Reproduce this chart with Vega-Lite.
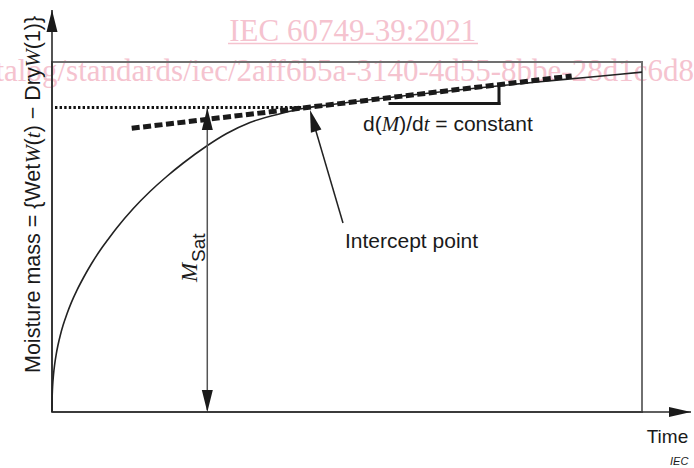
{
  "$schema": "https://vega.github.io/schema/vega-lite/v6.json",
  "width": 694,
  "height": 468,
  "autosize": {"type": "none"},
  "padding": 0,
  "background": "white",
  "config": {"view": {"stroke": null}},
  "datasets": {
    "watermark": [
      {"t": 50.98, "m": 106.0, "label": "IEC 60749-39:2021"}
    ],
    "watermarkUrl": [
      {"t": -14.24, "m": 94.57, "label": "catalog/standards/iec/2aff6b5a-3140-4d55-8bbe-28d1c6d8"}
    ],
    "underline": [
      {"t": 29.83, "t2": 72.2, "m": 105.29, "m2": 105.29}
    ],
    "box": [
      {"t": 0, "t2": 100, "m": 0, "m2": 100}
    ],
    "curve": [
      {"t": 0, "m": 0},
      {"t": 0.017, "m": 3.429},
      {"t": 0.051, "m": 5.429},
      {"t": 0.119, "m": 7.771},
      {"t": 0.254, "m": 10.686},
      {"t": 0.458, "m": 13.686},
      {"t": 0.712, "m": 16.486},
      {"t": 1.017, "m": 19.143},
      {"t": 1.441, "m": 22.143},
      {"t": 1.864, "m": 24.686},
      {"t": 2.542, "m": 28.086},
      {"t": 3.271, "m": 31.257},
      {"t": 4.237, "m": 34.829},
      {"t": 5.305, "m": 38.286},
      {"t": 6.61, "m": 42.143},
      {"t": 8.136, "m": 46.143},
      {"t": 9.492, "m": 49.286},
      {"t": 10.966, "m": 52.571},
      {"t": 13.78, "m": 58.143},
      {"t": 16.61, "m": 63.0},
      {"t": 19.441, "m": 67.286},
      {"t": 22.254, "m": 71.143},
      {"t": 26.22, "m": 76.0},
      {"t": 29.61, "m": 79.571},
      {"t": 33.559, "m": 82.714},
      {"t": 39.153, "m": 85.429},
      {"t": 42.542, "m": 86.714},
      {"t": 47.119, "m": 87.8},
      {"t": 52.203, "m": 88.857},
      {"t": 58.983, "m": 90.229},
      {"t": 67.458, "m": 91.771},
      {"t": 75.932, "m": 93.229},
      {"t": 82.712, "m": 94.343},
      {"t": 89.492, "m": 95.429},
      {"t": 96.271, "m": 96.514},
      {"t": 100, "m": 97.114}
    ],
    "tangent": [
      {"t": 13.51, "m": 81.06, "t2": 88.08, "m2": 96.0}
    ],
    "plateau": [
      {"t": 0.51, "m": 87.0, "t2": 43.39, "m2": 87.0}
    ],
    "bracket": [
      {"t": 57.29, "m": 88.14, "t2": 75.76, "m2": 88.14},
      {"t": 75.76, "m": 88.14, "t2": 75.76, "m2": 93.43}
    ],
    "axes": [
      {"t": 0, "m": 0, "t2": 0, "m2": 114.86},
      {"t": 0, "m": 0, "t2": 108.31, "m2": 0}
    ],
    "msatLine": [
      {"t": 26.32, "m": 0.5, "t2": 26.32, "m2": 86.86}
    ],
    "interceptLine": [
      {"t": 49.32, "m": 54.0, "t2": 44.0, "m2": 84.5}
    ],
    "headsUp": [
      {"t": 0, "m": 111.71},
      {"t": 26.32, "m": 83.71}
    ],
    "headsDown": [
      {"t": 26.32, "m": 3.14}
    ],
    "headsRight": [
      {"t": 106.44, "m": 0}
    ],
    "headsIntercept": [
      {"t": 44.25, "m": 83.26}
    ],
    "ySans": [
      {"t": -2.034, "m": 11.143, "label": "Moisture mass = {Wet"},
      {"t": -2.034, "m": 76.17, "label": "("},
      {"t": -2.034, "m": 79.91, "label": ") − Dry"},
      {"t": -2.034, "m": 103.63, "label": "(1)}"}
    ],
    "yItalic": [
      {"t": -2.034, "m": 71.06, "label": "W"},
      {"t": -2.034, "m": 78.23, "label": "t"},
      {"t": -2.034, "m": 98.51, "label": "W"}
    ],
    "rateSans": [
      {"t": 52.71, "m": 80.29, "label": "d("},
      {"t": 58.85, "m": 80.29, "label": ")/d"},
      {"t": 64.97, "m": 80.29, "label": "= constant"}
    ],
    "rateItalic": [
      {"t": 55.88, "m": 80.29, "label": "M"},
      {"t": 63.0, "m": 80.29, "label": "t"}
    ],
    "labels": [
      {"t": 49.66, "m": 46.86, "label": "Intercept point"}
    ],
    "timeLabel": [
      {"t": 100.8, "m": -8.77, "label": "Time"}
    ],
    "iecLabel": [
      {"t": 104.75, "m": -15.14, "label": "IEC"}
    ],
    "msatM": [
      {"t": 24.58, "m": 37.14, "label": "M"}
    ],
    "msatSub": [
      {"t": 25.93, "m": 42.86, "label": "Sat"}
    ]
  },
  "encoding": {
    "x": {"field": "t", "type": "quantitative", "scale": {"domain": [-8.8136, 108.8136], "nice": false, "zero": false}, "axis": null},
    "y": {"field": "m", "type": "quantitative", "scale": {"domain": [-16, 117.714], "nice": false, "zero": false}, "axis": null}
  },
  "layer": [
    {
      "data": {"name": "watermark"},
      "mark": {"type": "text", "font": "Liberation Serif", "fontSize": 31, "align": "center", "baseline": "alphabetic", "color": "#f5c3cf"},
      "encoding": {"text": {"field": "label"}}
    },
    {
      "data": {"name": "underline"},
      "mark": {"type": "rule", "color": "#f5c3cf", "strokeWidth": 1.5},
      "encoding": {"x2": {"field": "t2"}, "y2": {"field": "m2"}}
    },
    {
      "data": {"name": "watermarkUrl"},
      "mark": {"type": "text", "font": "Liberation Serif", "fontSize": 31, "align": "left", "baseline": "alphabetic", "color": "#f5c3cf"},
      "encoding": {"text": {"field": "label"}}
    },
    {
      "data": {"name": "box"},
      "mark": {"type": "rect", "fillOpacity": 0, "stroke": "#707070", "strokeWidth": 2},
      "encoding": {"x2": {"field": "t2"}, "y2": {"field": "m2"}}
    },
    {
      "data": {"name": "axes"},
      "mark": {"type": "rule", "color": "#2a2a2a", "strokeWidth": 1.6},
      "encoding": {"x2": {"field": "t2"}, "y2": {"field": "m2"}}
    },
    {
      "data": {"name": "plateau"},
      "mark": {"type": "rule", "color": "#111111", "strokeWidth": 3, "strokeDash": [2.4, 2.2]},
      "encoding": {"x2": {"field": "t2"}, "y2": {"field": "m2"}}
    },
    {
      "data": {"name": "curve"},
      "mark": {"type": "line", "interpolate": "monotone", "color": "#222222", "strokeWidth": 1.6},
      "encoding": {}
    },
    {
      "data": {"name": "tangent"},
      "mark": {"type": "rule", "color": "#1a1a1a", "strokeWidth": 5, "strokeDash": [8, 3.5]},
      "encoding": {"x2": {"field": "t2"}, "y2": {"field": "m2"}}
    },
    {
      "data": {"name": "bracket"},
      "mark": {"type": "rule", "color": "#1a1a1a", "strokeWidth": 3, "strokeCap": "square"},
      "encoding": {"x2": {"field": "t2"}, "y2": {"field": "m2"}}
    },
    {
      "data": {"name": "msatLine"},
      "mark": {"type": "rule", "color": "#555555", "strokeWidth": 1.5},
      "encoding": {"x2": {"field": "t2"}, "y2": {"field": "m2"}}
    },
    {
      "data": {"name": "interceptLine"},
      "mark": {"type": "rule", "color": "#222222", "strokeWidth": 1.5},
      "encoding": {"x2": {"field": "t2"}, "y2": {"field": "m2"}}
    },
    {
      "data": {"name": "headsUp"},
      "mark": {"type": "point", "shape": "M0,-1L0.5,1L-0.5,1Z", "size": 484, "filled": true, "color": "#1a1a1a", "opacity": 1, "strokeWidth": 0, "angle": 0}
    },
    {
      "data": {"name": "headsDown"},
      "mark": {"type": "point", "shape": "M0,-1L0.5,1L-0.5,1Z", "size": 484, "filled": true, "color": "#1a1a1a", "opacity": 1, "strokeWidth": 0, "angle": 180}
    },
    {
      "data": {"name": "headsRight"},
      "mark": {"type": "point", "shape": "M0,-1L0.45,1L-0.45,1Z", "size": 484, "filled": true, "color": "#1a1a1a", "opacity": 1, "strokeWidth": 0, "angle": 90}
    },
    {
      "data": {"name": "headsIntercept"},
      "mark": {"type": "point", "shape": "M0,-1L0.5,1L-0.5,1Z", "size": 484, "filled": true, "color": "#1a1a1a", "opacity": 1, "strokeWidth": 0, "angle": 343.7}
    },
    {
      "data": {"name": "ySans"},
      "mark": {"type": "text", "font": "Liberation Sans", "fontSize": 21.5, "angle": 270, "align": "left", "baseline": "alphabetic", "color": "#1a1a1a"},
      "encoding": {"text": {"field": "label"}}
    },
    {
      "data": {"name": "yItalic"},
      "mark": {"type": "text", "font": "Liberation Serif", "fontStyle": "italic", "fontSize": 21.5, "angle": 270, "align": "left", "baseline": "alphabetic", "color": "#1a1a1a"},
      "encoding": {"text": {"field": "label"}}
    },
    {
      "data": {"name": "rateSans"},
      "mark": {"type": "text", "font": "Liberation Sans", "fontSize": 21, "align": "left", "baseline": "alphabetic", "color": "#1a1a1a"},
      "encoding": {"text": {"field": "label"}}
    },
    {
      "data": {"name": "rateItalic"},
      "mark": {"type": "text", "font": "Liberation Serif", "fontStyle": "italic", "fontSize": 21, "align": "left", "baseline": "alphabetic", "color": "#1a1a1a"},
      "encoding": {"text": {"field": "label"}}
    },
    {
      "data": {"name": "labels"},
      "mark": {"type": "text", "font": "Liberation Sans", "fontSize": 21, "align": "left", "baseline": "alphabetic", "color": "#1a1a1a"},
      "encoding": {"text": {"field": "label"}}
    },
    {
      "data": {"name": "timeLabel"},
      "mark": {"type": "text", "font": "Liberation Sans", "fontSize": 19, "align": "left", "baseline": "alphabetic", "color": "#1a1a1a"},
      "encoding": {"text": {"field": "label"}}
    },
    {
      "data": {"name": "iecLabel"},
      "mark": {"type": "text", "font": "Liberation Sans", "fontStyle": "italic", "fontSize": 11, "align": "left", "baseline": "alphabetic", "color": "#1a1a1a"},
      "encoding": {"text": {"field": "label"}}
    },
    {
      "data": {"name": "msatM"},
      "mark": {"type": "text", "font": "Liberation Serif", "fontStyle": "italic", "fontSize": 23, "angle": 270, "align": "left", "baseline": "alphabetic", "color": "#1a1a1a"},
      "encoding": {"text": {"field": "label"}}
    },
    {
      "data": {"name": "msatSub"},
      "mark": {"type": "text", "font": "Liberation Sans", "fontSize": 19, "angle": 270, "align": "left", "baseline": "alphabetic", "color": "#1a1a1a"},
      "encoding": {"text": {"field": "label"}}
    }
  ]
}
